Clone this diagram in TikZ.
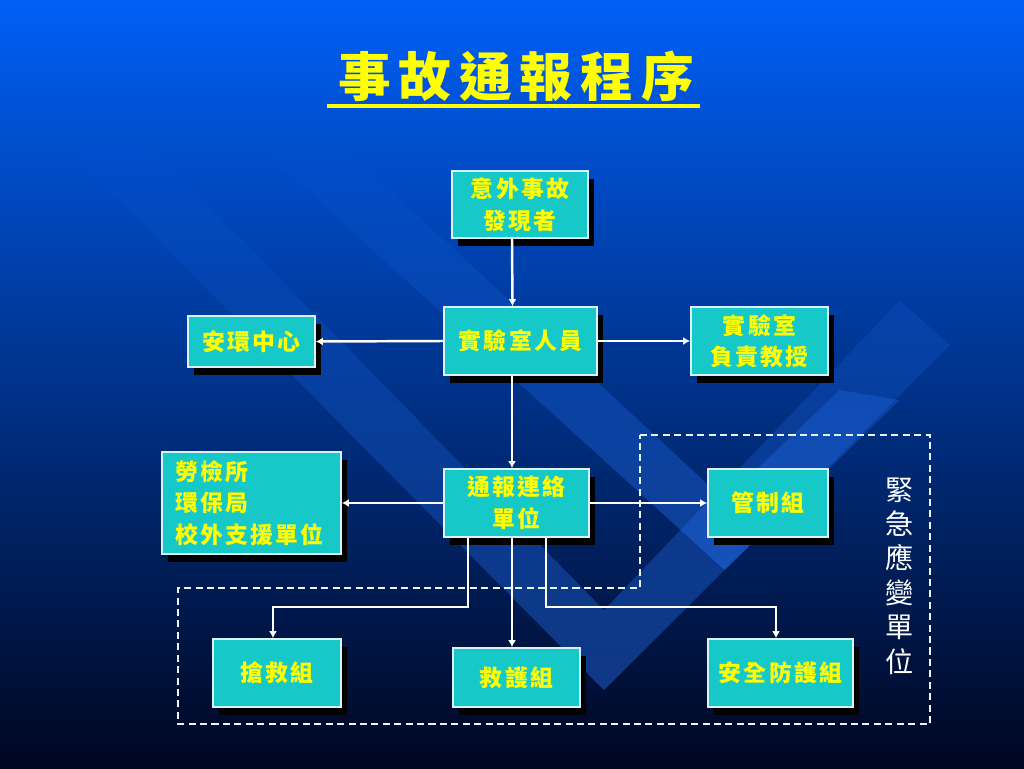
\documentclass[tikz,border=0pt]{standalone}
\usepackage{fontspec}
\newfontfamily\cjk[LetterSpace=10]{Noto Sans CJK TC}
\newfontfamily\cjktitle[LetterSpace=15]{Noto Sans CJK TC}
\newfontfamily\cjkplain{Noto Sans CJK TC}
\usetikzlibrary{arrows.meta,shadows,fadings}

\definecolor{bgtop}{RGB}{0,95,245}
\definecolor{bgmid}{RGB}{0,66,200}
\definecolor{bgbot}{RGB}{0,6,32}
\definecolor{bandblue}{RGB}{40,120,255}
\definecolor{boxcyan}{RGB}{22,200,200}
\definecolor{labelyellow}{RGB}{255,255,0}

\begin{document}
\begin{tikzpicture}[x=0.02cm, y=-0.02cm,
    unit/.style={draw=white!85!cyan, line width=1pt, fill=boxcyan, text=labelyellow,
        font=\cjk\bfseries\fontsize{13}{18}\selectfont, align=center, inner sep=0pt,
        drop shadow={shadow xshift=0.12cm, shadow yshift=-0.16cm, opacity=1, fill=black}},
    band/.style={fill=bandblue, fill opacity=0.4, path fading=north},
    link/.style={white, line width=1.4pt, -{Latex[length=4pt,width=4.5pt]}}]

    % Background
    \shade [top color=bgtop, middle color=bgmid, bottom color=bgbot] (0,0) rectangle (1024,768);
    \fill [band] (40,120) -- (125,120) -- (604,610) -- (900,300) -- (950,345) -- (604,690) -- cycle;
    \fill [band] (230,120) -- (315,120) -- (725,500) -- (840,390) -- (900,400) -- (725,570) -- cycle;

    % Title
    \node [font=\cjktitle\bfseries\fontsize{30}{36}\selectfont, text=labelyellow] (title) at (516,76) {事故通報程序};
    \draw [labelyellow, line width=2pt] (327,106) -- (700,106);

    % Blocks
    \node [unit, minimum width=2.72cm, minimum height=1.34cm] (finder) at (520,204.5) {意外事故\\發現者};
    \node [unit, minimum width=3.06cm, minimum height=1.36cm] (staff) at (520.5,341) {實驗室人員};
    \node [unit, minimum width=2.54cm, minimum height=1.02cm] (safety) at (251.5,341.5) {安環中心};
    \node [unit, minimum width=2.74cm, minimum height=1.36cm] (prof) at (759.5,341) {實驗室\\負責教授};
    \node [unit, align=left, text width=3.06cm, inner xsep=0.26cm, minimum height=2.04cm] (labor) at (251.5,503) {勞檢所\\環保局\\校外支援單位};
    \node [unit, minimum width=2.9cm, minimum height=1.36cm] (report) at (516.5,503) {通報連絡\\單位};
    \node [unit, minimum width=2.4cm, minimum height=1.36cm] (control) at (768,503) {管制組};
    \node [unit, minimum width=2.56cm, minimum height=1.36cm] (rescue) at (277,673) {搶救組};
    \node [unit, minimum width=2.54cm, minimum height=1.18cm] (care) at (516.5,677.5) {救護組};
    \node [unit, minimum width=2.9cm, minimum height=1.36cm] (guard) at (780.5,673) {安全防護組};

    % Emergency group
    \draw [white!90!cyan, line width=0.8pt, dash pattern=on 4pt off 2.5pt] (640,435) -- (930,435) -- (930,724) -- (178,724) -- (178,588) -- (640,588) -- cycle;
    \node [text=white, font=\cjkplain\fontsize{16}{19.6}\selectfont, align=center] (emerg) at (900,576) {緊\\急\\應\\變\\單\\位};

    % Arrows
    \draw [link] ([xshift=-0.16cm]finder.south) -- ([xshift=-0.16cm]staff.north);
    \draw [link] (staff.west) -- (safety.east);
    \draw [link] (staff.east) -- (prof.west);
    \draw [link] ([xshift=-0.17cm]staff.south) -- ([xshift=-0.17cm]staff.south |- report.north);
    \draw [link] (report.west) -- (labor.east);
    \draw [link] (report.east) -- (control.west);
    \draw [link] ([xshift=0.5cm]report.south west) -- ++(0,69) -| ([xshift=-0.08cm]rescue.north);
    \draw [link] ([xshift=-0.09cm]report.south) -- ([xshift=-0.09cm]report.south |- care.north);
    \draw [link] ([xshift=-0.88cm]report.south east) -- ++(0,69) -| ([xshift=-0.09cm]guard.north);
\end{tikzpicture}
\end{document}
